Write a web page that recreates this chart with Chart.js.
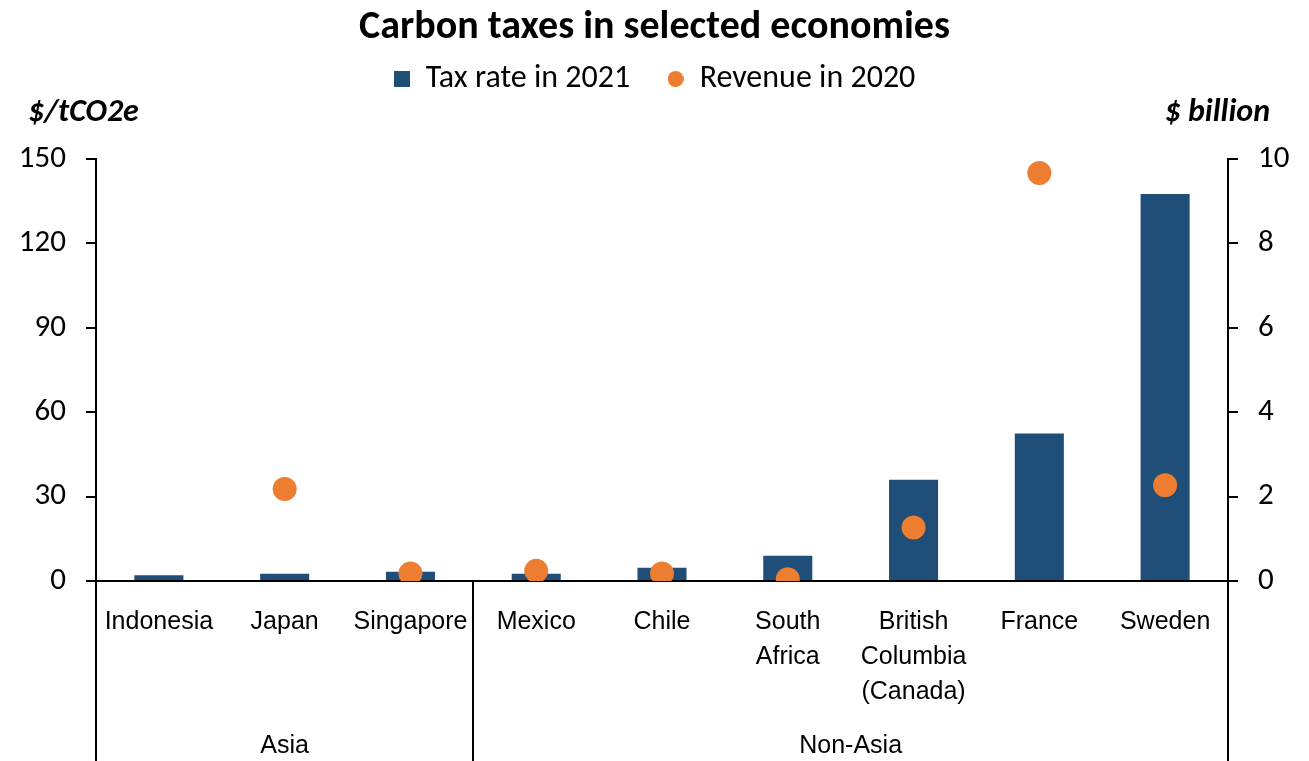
<!DOCTYPE html>
<html>
<head>
<meta charset="utf-8">
<script src="https://cdn.jsdelivr.net/npm/chart.js@4.4.1/dist/chart.umd.min.js"></script>
<style>
html,body{margin:0;padding:0;background:#fff;}
#wrap{width:1309px;height:761px;position:relative;}
</style>
</head>
<body>
<div id="wrap"><canvas id="c"></canvas></div>
<script>
// ---- data ----
const categories = ['Indonesia', 'Japan', 'Singapore', 'Mexico', 'Chile', ['South', 'Africa'], ['British', 'Columbia', '(Canada)'], 'France', 'Sweden'];
const taxRate2021 = [2.0, 2.6, 3.3, 2.6, 4.7, 9.0, 36.0, 52.4, 137.6];
const revenue2020 = [null, 2.18, 0.18, 0.24, 0.18, 0.04, 1.27, 9.67, 2.27];
const groups = [{label: 'Asia', from: 0, to: 2}, {label: 'Non-Asia', from: 3, to: 8}];
const leftTicks = [0, 30, 60, 90, 120, 150];
const rightTicks = [0, 2, 4, 6, 8, 10];
const seriesNames = ['Tax rate in 2021', 'Revenue in 2020'];
const unitLeft = '$/tCO2e';
const unitRight = '$ billion';
const titleText = 'Carbon taxes in selected economies';

const BAR = '#1F4E79';
const DOT = '#ED7D31';
const SANS = 'Carlito, Calibri, Lato, sans-serif';
const NARROW = '"Liberation Sans Narrow", "Arial Narrow", "Liberation Sans", Arial, sans-serif';

function marker(shape, color) {
  const c = document.createElement('canvas');
  c.width = 16; c.height = 16;
  const g = c.getContext('2d');
  g.fillStyle = color;
  if (shape === 'rect') g.fillRect(0, 0, 16, 16);
  else { g.beginPath(); g.arc(8, 8, 8, 0, Math.PI * 2); g.fill(); }
  return c;
}
const legendMarkers = [marker('rect', BAR), marker('circle', DOT)];

const spacerPlugin = {
  id: 'spacer',
  beforeInit(chart) {
    if (!Chart.layouts) return;
    const box = {
      position: 'top', weight: -10, fullSize: true, options: {},
      left: 0, top: 0, right: 0, bottom: 0, width: 0, height: 0,
      isHorizontal() { return true; },
      update(maxWidth) { this.width = maxWidth; this.height = 54; },
      draw() {}
    };
    Chart.layouts.addBox(chart, box);
  }
};

const decoPlugin = {
  id: 'deco',
  afterDraw(chart) {
    const ctx = chart.ctx;
    const xs = chart.scales.x;
    const area = chart.chartArea;
    ctx.save();
    ctx.fillStyle = '#000';
    ctx.font = 'italic bold 32px ' + SANS;
    ctx.textBaseline = 'middle';
    ctx.textAlign = 'left';
    ctx.fillText(unitLeft, area.left - 68, 113);
    ctx.textAlign = 'right';
    ctx.fillText(unitRight, area.right + 42, 113);
    ctx.strokeStyle = '#000';
    ctx.lineWidth = 2;
    const half = (xs.getPixelForValue(1) - xs.getPixelForValue(0)) / 2;
    const bounds = [];
    groups.forEach(g => {
      const l = xs.getPixelForValue(g.from) - half;
      const r = xs.getPixelForValue(g.to) + half;
      bounds.push(l, r);
      ctx.font = '25px ' + NARROW;
      ctx.textAlign = 'center';
      ctx.textBaseline = 'middle';
      ctx.fillText(g.label, (l + r) / 2, 746);
    });
    const uniq = [...new Set(bounds.map(v => Math.round(v)))];
    uniq.forEach(x => {
      ctx.beginPath();
      ctx.moveTo(x, area.bottom);
      ctx.lineTo(x, chart.height);
      ctx.stroke();
    });
    ctx.restore();
  }
};

new Chart(document.getElementById('c'), {
  data: {
    labels: categories,
    datasets: [
      {
        type: 'bar', label: seriesNames[0], data: taxRate2021, yAxisID: 'y',
        backgroundColor: BAR, borderWidth: 0, order: 1,
        categoryPercentage: 1, barPercentage: 0.39
      },
      {
        type: 'line', label: seriesNames[1], data: revenue2020, yAxisID: 'y2',
        showLine: false, pointRadius: 12, pointHoverRadius: 12,
        pointBackgroundColor: DOT, pointBorderWidth: 0, backgroundColor: DOT, borderColor: DOT,
        order: 0
      }
    ]
  },
  options: {
    responsive: true, maintainAspectRatio: false, animation: false,
    layout: {padding: {left: 0, right: 0, top: 0, bottom: 0}},
    plugins: {
      tooltip: {enabled: false},
      title: {
        display: true, text: titleText, color: '#000',
        font: {family: SANS, size: 40, weight: 'bold', lineHeight: 1.0},
        padding: {top: 8, bottom: 0}
      },
      legend: {
        display: true, position: 'top',
        labels: {
          usePointStyle: true, boxWidth: 16, boxHeight: 16, padding: 15,
          color: '#000', font: {family: SANS, size: 32},
          sort: (a, b) => a.datasetIndex - b.datasetIndex,
          generateLabels(chart) {
            const items = Chart.defaults.plugins.legend.labels.generateLabels(chart);
            items.forEach(it => {
              it.pointStyle = legendMarkers[it.datasetIndex];
              it.lineWidth = 0;
              if (it.datasetIndex === 0) it.text = it.text + '\u2002\u2009';
            });
            return items;
          }
        }
      }
    },
    scales: {
      x: {
        type: 'category', offset: true,
        grid: {display: false, drawTicks: false},
        border: {display: true, color: '#000', width: 2},
        ticks: {color: '#000', font: {family: NARROW, size: 25, lineHeight: 1.4}, padding: 24, maxRotation: 0, autoSkip: false},
        afterFit(s) { s.height = 180; }
      },
      y: {
        position: 'left', min: 0, max: 150,
        afterBuildTicks(s) { s.ticks = leftTicks.map(v => ({value: v})); },
        grid: {drawOnChartArea: false, drawTicks: true, tickLength: 10, color: '#000', lineWidth: 2},
        border: {display: true, color: '#000', width: 2},
        ticks: {color: '#000', font: {family: SANS, size: 31}, padding: 20},
        afterFit(s) { s.width = 96; }
      },
      y2: {
        position: 'right', min: 0, max: 10,
        afterBuildTicks(s) { s.ticks = rightTicks.map(v => ({value: v})); },
        grid: {drawOnChartArea: false, drawTicks: true, tickLength: 10, color: '#000', lineWidth: 2},
        border: {display: true, color: '#000', width: 2},
        ticks: {color: '#000', font: {family: SANS, size: 31}, padding: 20},
        afterFit(s) { s.width = 81; }
      }
    }
  },
  plugins: [spacerPlugin, decoPlugin]
});
</script>
</body>
</html>
